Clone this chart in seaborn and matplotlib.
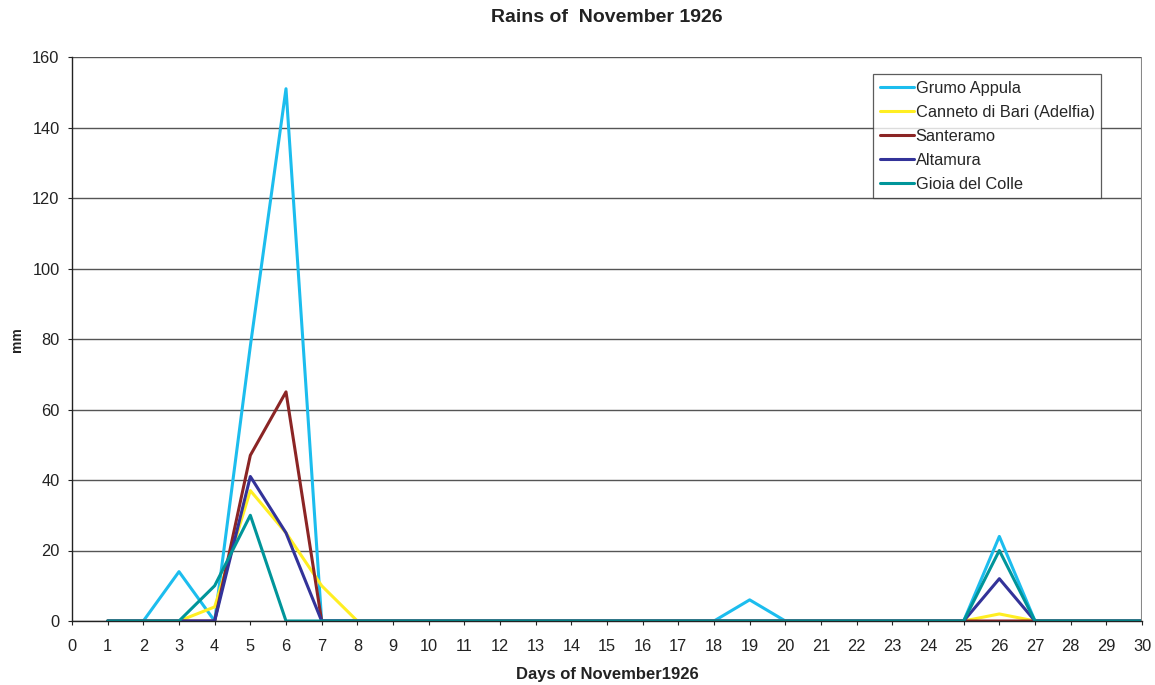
import matplotlib
matplotlib.use("Agg")
import matplotlib.pyplot as plt
import seaborn as sns
import pandas as pd

days = list(range(1, 31))

grumo_appula = [0, 0, 14, 0, 78, 151, 0, 0, 0, 0, 0, 0, 0, 0, 0,
                0, 0, 0, 6, 0, 0, 0, 0, 0, 0, 24, 0, 0, 0, 0]
canneto_di_bari = [0, 0, 0, 4, 37, 25, 10, 0, 0, 0, 0, 0, 0, 0, 0,
                   0, 0, 0, 0, 0, 0, 0, 0, 0, 0, 2, 0, 0, 0, 0]
santeramo = [0, 0, 0, 0, 47, 65, 0, 0, 0, 0, 0, 0, 0, 0, 0,
             0, 0, 0, 0, 0, 0, 0, 0, 0, 0, 0, 0, 0, 0, 0]
altamura = [0, 0, 0, 0, 41, 25, 0, 0, 0, 0, 0, 0, 0, 0, 0,
            0, 0, 0, 0, 0, 0, 0, 0, 0, 0, 12, 0, 0, 0, 0]
gioia_del_colle = [0, 0, 0, 10, 30, 0, 0, 0, 0, 0, 0, 0, 0, 0, 0,
                   0, 0, 0, 0, 0, 0, 0, 0, 0, 0, 20, 0, 0, 0, 0]

stations = ["Grumo Appula", "Canneto di Bari (Adelfia)", "Santeramo",
            "Altamura", "Gioia del Colle"]
series = [grumo_appula, canneto_di_bari, santeramo, altamura, gioia_del_colle]
colors = ["#1CBDEE", "#FFEE22", "#8B2525", "#333399", "#00959A"]

rows = []
for name, vals in zip(stations, series):
    for d, v in zip(days, vals):
        rows.append({"day": d, "mm": v, "station": name})
df = pd.DataFrame(rows)

sns.set_theme(style="white")
plt.rcParams["font.family"] = ["Liberation Sans", "DejaVu Sans"]

fig = plt.figure(figsize=(11.55, 6.85), dpi=100)
ax = fig.add_axes([72 / 1155, 64 / 685, 1070 / 1155, 564 / 685])

sns.lineplot(data=df, x="day", y="mm", hue="station", hue_order=stations,
             palette=colors, linewidth=2.2, ax=ax, legend=True)

ax.set_xlim(0, 30)
ax.set_ylim(0, 160)
ax.set_xticks(range(0, 31))
ax.set_yticks(range(0, 161, 20))
ax.tick_params(axis="both", labelsize=11.8, colors="#222222", length=3,
               width=0.8, direction="out", bottom=True, left=True)
ax.tick_params(axis="x", pad=10)
ax.tick_params(axis="y", pad=6)
ax.yaxis.grid(True, color="#555555", linewidth=1.0)
ax.set_axisbelow(True)

for side in ["top", "right"]:
    ax.spines[side].set_visible(False)
ax.spines["left"].set_color("#222222")
ax.spines["bottom"].set_color("#222222")
ax.spines["left"].set_linewidth(1.0)
ax.spines["bottom"].set_linewidth(1.0)
ax.axvline(30, color="#888888", linewidth=1.5)

ax.set_xlabel("Days of November1926", fontsize=12, fontweight="bold",
              color="#222222", labelpad=9)
ax.set_ylabel("")
fig.text(17 / 1155, 1 - 340 / 685, "mm", rotation=90, fontsize=10,
         fontweight="bold", color="#222222", ha="center", va="center")
fig.suptitle("Rains of  November 1926", fontsize=14, fontweight="bold",
             color="#222222", x=607 / 1155, y=1 - 17 / 685, va="center")

leg = ax.legend(loc="upper left", bbox_to_anchor=(801 / 1070, 1 - 17 / 564),
                fontsize=11.8, frameon=True, fancybox=False, borderpad=0.4,
                handlelength=2.1, handletextpad=0.1, labelspacing=0.55,
                borderaxespad=0)
leg.get_frame().set_edgecolor("#333333")
leg.get_frame().set_linewidth(0.9)
for line in leg.get_lines():
    line.set_linewidth(2.2)

fig.savefig("out.png", dpi=100, facecolor="white")
